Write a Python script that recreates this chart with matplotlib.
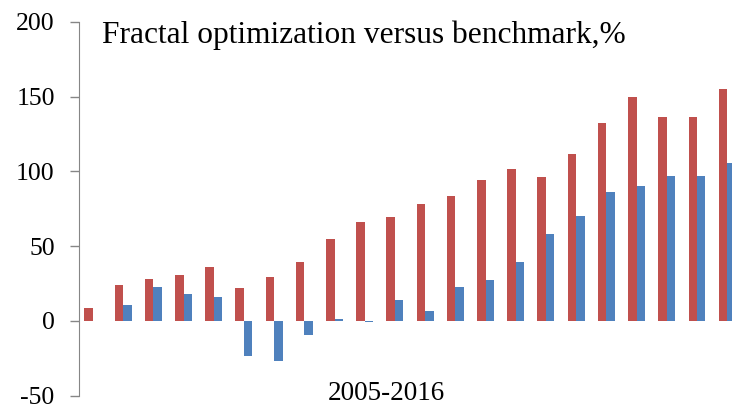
import numpy as np
import matplotlib
matplotlib.use("Agg")
import matplotlib.pyplot as plt

# values, 22 periods
fractal = [8.7, 24, 28, 30.5, 36, 22, 29.5, 39.5, 55, 66, 69.5, 78,
           83.5, 94.5, 101.5, 96, 111.5, 132.5, 149.5, 136.5, 136.5, 155.5]
benchmark = [0, 10.5, 23, 18, 16, -23.5, -27, -9.5, 1.3, -1, 14, 6.5,
             23, 27.5, 39.5, 58, 70.5, 86, 90, 97, 97, 105.5]
yticks = [-50, 0, 50, 100, 150, 200]
title = "Fractal optimization versus benchmark,%"
xlabel = "2005-2016"

plt.rcParams['font.family'] = ['Liberation Serif', 'DejaVu Serif']
plt.rcParams['axes.unicode_minus'] = False

fig = plt.figure(figsize=(7.32, 4.08), dpi=100)
ax = fig.add_axes([79 / 732, 12.3 / 408, 1 - 79 / 732, (395.7 - 22) / 408])

x = np.arange(len(fractal))
w = 0.28
ax.bar(x - w / 2, fractal, w, color='#C0504D')
ax.bar(x + w / 2, benchmark, w, color='#4F81BD')

ax.set_xlim(-0.46, 21.16)
ax.set_ylim(-50, 200)
ax.set_yticks(yticks)
ax.set_xticks([])

for s in ['top', 'right', 'bottom']:
    ax.spines[s].set_visible(False)
ax.spines['left'].set_color('#868686')
ax.tick_params(axis='y', length=6.5, width=1, color='#868686', pad=11,
               labelsize=18.5, labelcolor='black')

ax.text(0.035, 0.944, title, transform=ax.transAxes, fontsize=22.6,
        va='baseline', ha='left')
ax.text(0.471, -0.012, xlabel, transform=ax.transAxes, fontsize=19.5,
        va='baseline', ha='center')

fig.savefig('out.png', dpi=100)
